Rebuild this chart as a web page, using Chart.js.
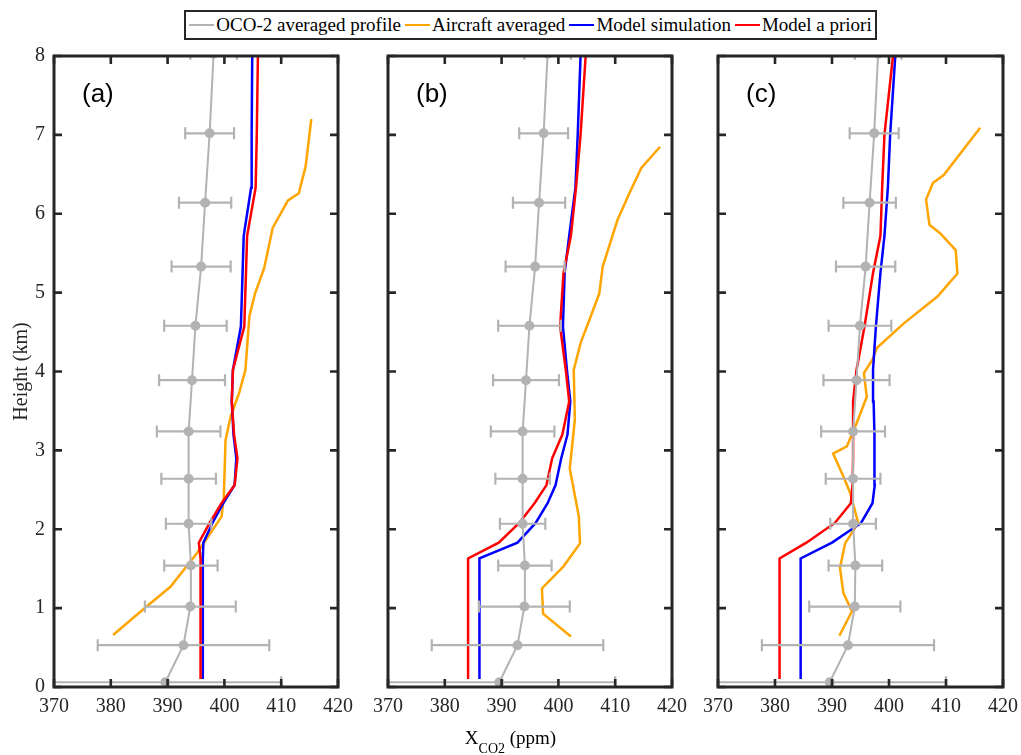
<!DOCTYPE html>
<html>
<head>
<meta charset="utf-8">
<title>XCO2 profiles</title>
<script src="https://cdn.jsdelivr.net/npm/chart.js@4.4.1/dist/chart.umd.min.js"></script>
<style>
  body { margin: 0; background: #fff; }
  #wrap { position: relative; width: 1021px; height: 755px; overflow: hidden; font-family: "Liberation Serif", serif; color: #000; }
  canvas { position: absolute; top: 0; }
  #legend { position: absolute; left: 184px; top: 10px; width: 689px; height: 26px; border: 2px solid #262626;
            display: flex; align-items: center; justify-content: center; font-size: 19px; white-space: nowrap; }
  #legend .item { display: flex; align-items: center; margin: 0 2px; }
  #legend .swatch { display: inline-block; width: 25px; height: 2px; margin-right: 2px; }
  #xlabel { position: absolute; left: 0; top: 727px; width: 1021px; text-align: center; font-size: 19px; line-height: 22px; }
  #xlabel sub { font-size: 14px; vertical-align: -9px; line-height: 0; }
</style>
</head>
<body>
<div id="wrap">
  <div id="legend"></div>
  <canvas id="panelA" width="365" height="755" style="left:0px"></canvas>
  <canvas id="panelB" width="345" height="755" style="left:345px"></canvas>
  <canvas id="panelC" width="331" height="755" style="left:690px"></canvas>
  <div id="xlabel">X<sub>CO2</sub> (ppm)</div>
</div>

<script>
// ---- data ----
const seriesNames = ["OCO-2 averaged profile", "Aircraft averaged", "Model simulation", "Model a priori"];
const seriesColors = ["#b3b3b3", "#ffa500", "#0000ff", "#ff0000"];
const panelLabels = ["(a)", "(b)", "(c)"];
const xTicks = [370, 380, 390, 400, 410, 420];
const yTicks = [0, 1, 2, 3, 4, 5, 6, 7, 8];

// OCO-2 averaged profile (same in all panels), mean and half-width of error bar
const ocoHeight = [0.06, 0.53, 1.02, 1.54, 2.07, 2.64, 3.24, 3.89, 4.58, 5.33, 6.14, 7.02, 8.03];
const ocoMean   = [389.6, 392.8, 394.0, 394.1, 393.7, 393.7, 393.7, 394.3, 394.9, 395.9, 396.6, 397.4, 398.1];
const ocoErr    = [20.4, 15.1, 8.0, 4.7, 4.0, 4.8, 5.6, 5.8, 5.5, 5.2, 4.6, 4.3, 4.1];

// model levels
const modelHeight = [0.1, 1.63, 1.83, 2.08, 2.33, 2.56, 2.9, 3.2, 3.62, 4.02, 4.57, 5.25, 5.72, 6.33, 7.0, 8.0];

// panel (a)
const simA   = [396.2, 396.2, 396.3, 397.9, 399.8, 401.8, 402.1, 401.6, 401.3, 401.5, 402.9, 403.2, 403.4, 404.7, 404.8, 404.9];
const priorA = [395.8, 395.8, 395.5, 397.4, 399.5, 401.8, 402.3, 401.7, 401.3, 401.5, 403.5, 403.8, 404.0, 405.5, 405.7, 405.9];
const airHeightA = [0.66, 1.02, 1.27, 1.70, 2.16, 2.41, 3.13, 3.43, 3.73, 4.02, 4.70, 4.99, 5.31, 5.82, 6.17, 6.26, 6.60, 7.20];
const airA       = [380.4, 386.3, 390.5, 395.2, 399.5, 399.9, 400.2, 401.1, 402.6, 403.7, 404.4, 405.4, 407.0, 408.5, 411.2, 413.1, 414.3, 415.3];

// panel (b)
const simB   = [386.1, 386.1, 392.8, 396.0, 398.1, 399.5, 400.5, 401.6, 402.1, 401.5, 400.8, 401.1, 401.9, 403.0, 403.4, 403.9];
const priorB = [384.1, 384.1, 389.5, 393.1, 395.8, 397.9, 398.9, 400.7, 401.9, 401.3, 400.3, 400.9, 402.2, 403.1, 403.9, 404.8];
const airHeightB = [0.64, 0.93, 1.25, 1.53, 1.82, 2.16, 2.77, 3.39, 4.02, 4.36, 4.70, 4.99, 5.33, 5.92, 6.26, 6.58, 6.85];
const airB       = [402.2, 397.3, 397.1, 400.9, 403.8, 403.6, 402.0, 402.9, 402.7, 403.9, 405.7, 407.2, 407.8, 410.4, 412.5, 414.6, 417.9];

// panel (c)
const simC   = [384.5, 384.5, 390.0, 395.1, 397.1, 397.5, 397.5, 397.4, 397.3, 397.2, 397.7, 398.5, 399.2, 399.8, 400.2, 401.1];
const priorC = [380.8, 380.8, 385.5, 390.5, 393.3, 393.6, 393.7, 393.7, 393.7, 394.3, 395.7, 397.2, 398.5, 398.8, 399.2, 400.7];
const airHeightC = [0.65, 0.96, 1.19, 1.51, 1.82, 2.08, 2.46, 2.67, 2.96, 3.05, 3.34, 3.68, 3.98, 4.15, 4.30, 4.61, 4.95, 5.24, 5.54, 5.75, 5.86, 6.18, 6.39, 6.49, 7.09];
const airC       = [391.3, 393.5, 392.0, 391.4, 392.3, 394.6, 393.2, 392.0, 390.2, 392.6, 394.3, 396.1, 395.6, 397.1, 397.9, 402.6, 408.5, 412.0, 411.7, 409.0, 407.1, 406.5, 407.7, 409.6, 416.0];

const axisColor = "#262626";
const serif = '"Liberation Serif", "Times New Roman", serif';

Chart.defaults.font.family = serif;
Chart.defaults.font.size = 20;
Chart.defaults.color = axisColor;

function pts(xs, ys) {
  return xs.map((v, i) => ({ x: v, y: ys[i] }));
}

// legend (html)
const legend = document.getElementById("legend");
seriesNames.forEach((name, i) => {
  const it = document.createElement("span");
  it.className = "item";
  it.innerHTML = `<span class="swatch" style="background:${seriesColors[i]}"></span>${name}`;
  legend.appendChild(it);
});

// frame, inward ticks, error bars and panel letter
const framePlugin = {
  id: "frame",
  afterDatasetsDraw(chart) {
    const { ctx, chartArea: a, scales: { x, y } } = chart;
    ctx.save();
    ctx.beginPath();
    ctx.rect(a.left, a.top, a.width, a.height);
    ctx.clip();
    ctx.strokeStyle = seriesColors[0];
    ctx.lineWidth = 2.2;
    ocoMean.forEach((m, i) => {
      const py = y.getPixelForValue(ocoHeight[i]);
      const x1 = x.getPixelForValue(m - ocoErr[i]);
      const x2 = x.getPixelForValue(m + ocoErr[i]);
      ctx.beginPath();
      ctx.moveTo(x1, py); ctx.lineTo(x2, py);
      ctx.moveTo(x1, py - 6); ctx.lineTo(x1, py + 6);
      ctx.moveTo(x2, py - 6); ctx.lineTo(x2, py + 6);
      ctx.stroke();
    });
    ctx.restore();
  },
  afterDraw(chart, args, opts) {
    const { ctx, chartArea: a, scales: { x, y } } = chart;
    ctx.save();
    ctx.strokeStyle = axisColor;
    ctx.lineWidth = 2.6;
    ctx.beginPath();
    yTicks.forEach(v => {
      const py = y.getPixelForValue(v);
      ctx.moveTo(a.left, py); ctx.lineTo(a.left + 8, py);
      ctx.moveTo(a.right - 8, py); ctx.lineTo(a.right, py);
    });
    xTicks.forEach(v => {
      const px = x.getPixelForValue(v);
      ctx.moveTo(px, a.bottom); ctx.lineTo(px, a.bottom - 8);
      ctx.moveTo(px, a.top); ctx.lineTo(px, a.top + 8);
    });
    ctx.stroke();
    ctx.lineWidth = 3;
    ctx.strokeRect(a.left, a.top, a.width, a.height);

    ctx.fillStyle = "#000";
    ctx.font = '26px "Liberation Sans", Arial, sans-serif';
    ctx.textBaseline = "middle";
    ctx.fillText(opts.label, a.left + 28, a.top + 39);
    ctx.restore();
  }
};

function makePanel(id, idx, sim, prior, air, airHeight, padL, padR) {
  const showY = idx === 0;
  new Chart(document.getElementById(id), {
    type: "scatter",
    data: {
      datasets: [
        { label: seriesNames[0], data: pts(ocoMean, ocoHeight), showLine: true, borderColor: seriesColors[0],
          borderWidth: 2, pointRadius: 4, pointBackgroundColor: seriesColors[0], pointBorderColor: seriesColors[0] },
        { label: seriesNames[3], data: pts(prior, modelHeight), showLine: true, borderColor: seriesColors[3],
          borderWidth: 2.5, pointRadius: 0 },
        { label: seriesNames[2], data: pts(sim, modelHeight), showLine: true, borderColor: seriesColors[2],
          borderWidth: 2.5, pointRadius: 0 },
        { label: seriesNames[1], data: pts(air, airHeight), showLine: true, borderColor: seriesColors[1],
          borderWidth: 2.5, pointRadius: 0 }
      ]
    },
    options: {
      responsive: false,
      animation: false,
      layout: { padding: { left: padL, right: padR, top: 56, bottom: 0 } },
      plugins: {
        legend: { display: false },
        tooltip: { enabled: false },
        frame: { label: panelLabels[idx] }
      },
      scales: {
        x: {
          type: "linear", min: xTicks[0], max: xTicks[xTicks.length - 1],
          grid: { display: false, drawTicks: false }, border: { display: false },
          ticks: { stepSize: 10, padding: 8, color: axisColor, font: { family: serif, size: 20 } },
          afterFit(s) { s.height = 68; s.paddingLeft = 0; s.paddingRight = 0; }
        },
        y: {
          type: "linear", min: yTicks[0], max: yTicks[yTicks.length - 1],
          grid: { display: false, drawTicks: false }, border: { display: false },
          ticks: { display: showY, stepSize: 1, padding: 9, color: axisColor, font: { family: serif, size: 20 } },
          title: { display: showY, text: "Height (km)", color: axisColor,
                   font: { family: serif, size: 20 }, padding: { top: 10, bottom: 0 } },
          afterFit(s) { s.width = showY ? 54 : 0; s.paddingTop = 0; s.paddingBottom = 0; }
        }
      }
    },
    plugins: [framePlugin]
  });
}

makePanel("panelA", 0, simA, priorA, airA, airHeightA, 0, 27);
makePanel("panelB", 1, simB, priorB, airB, airHeightB, 43, 18);
makePanel("panelC", 2, simC, priorC, airC, airHeightC, 28, 18);
</script>
</body>
</html>
